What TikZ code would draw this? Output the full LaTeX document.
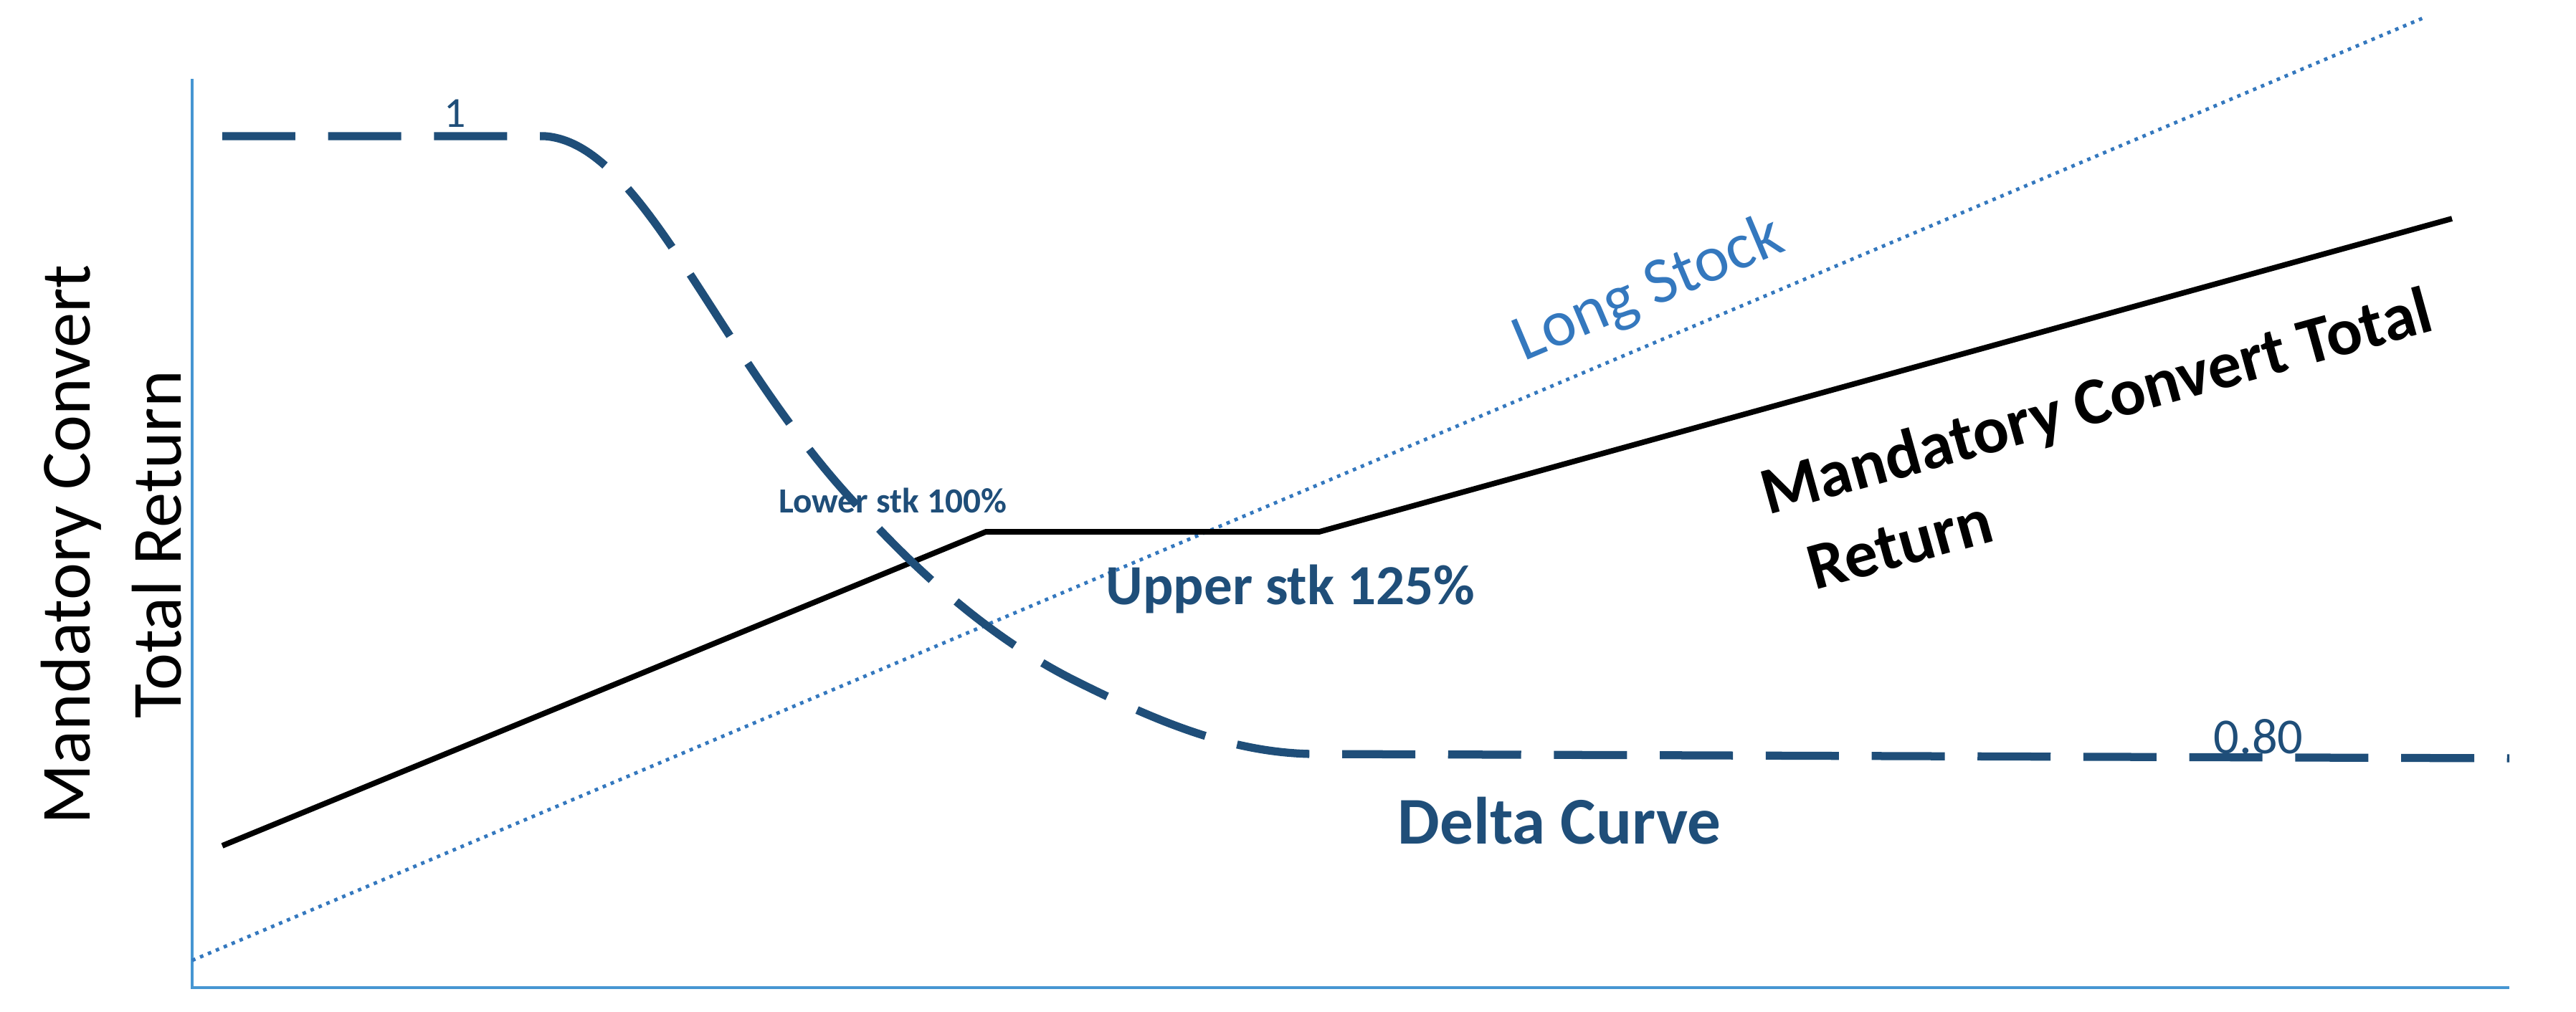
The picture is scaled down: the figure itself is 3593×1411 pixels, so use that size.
\documentclass[tikz,border=0pt]{standalone}
\usepackage{fontspec}
\setmainfont{Carlito}
\begin{document}
\begin{tikzpicture}[x=0.01cm,y=-0.01cm,
  lbl/.style={inner sep=0pt, anchor=center}]
\definecolor{dblue}{RGB}{31,78,121}
\definecolor{lblue}{RGB}{52,120,190}
\definecolor{axc}{RGB}{70,150,210}
\useasboundingbox (0,0) rectangle (3593,1411);
\coordinate (o) at (268,1378);
\coordinate (yt) at (268,110);
\coordinate (xr) at (3500,1378);
\draw[draw=axc, line width=1.4pt] (yt) -- (o) -- (xr);
\coordinate (ls1) at (268,1340);
\coordinate (ls2) at (3380,25);
\draw[draw=lblue, dotted, line width=1.4pt] (ls1) -- (ls2);
\coordinate (m1) at (310,1180);
\coordinate (m2) at (1375,742);
\coordinate (m3) at (1840,742);
\coordinate (m4) at (3420,305);
\draw[line width=2.2pt] (m1) -- (m2) -- (m3) -- (m4);
\coordinate (d1) at (310,190);
\coordinate (d2) at (760,190);
\coordinate (d4) at (1830,1052);
\coordinate (d5) at (3500,1058);
\draw[draw=dblue, line width=3.2pt, dash pattern=on 29pt off 13pt]
  (d1) -- (d2) .. controls (900,200) and (1000,500) .. (1200,710)
  .. controls (1300,820) and (1400,900) .. (1500,950)
  .. controls (1620,1010) and (1720,1050) .. (d4) -- (d5);
\node[lbl, text=dblue, font=\fontsize{17}{20}\selectfont] (one) at (635,158) {1};
\node[lbl, text=dblue, font=\fontsize{20}{24}\selectfont] (p80) at (3150,1028) {0.80};
\node[lbl, text=lblue, rotate=22.9, font=\fontsize{26}{30}\selectfont] (ls) at (2300,405) {Long Stock};
\node[lbl, rotate=15.5, font=\bfseries\fontsize{26.5}{30}\selectfont] (mct1) at (2925,565) {Mandatory Convert Total};
\node[lbl, rotate=15.5, font=\bfseries\fontsize{26.5}{30}\selectfont] (mct2) at (2650,760) {Return};
\node[lbl, text=dblue, font=\bfseries\fontsize{14}{16}\selectfont] (lo) at (1245,698) {Lower stk 100\%};
\node[lbl, text=dblue, font=\bfseries\fontsize{22.5}{26}\selectfont] (up) at (1800,822) {Upper stk 125\%};
\node[lbl, text=dblue, font=\bfseries\fontsize{26.5}{30}\selectfont] (dc) at (2175,1145) {Delta Curve};
\node[lbl, rotate=90, align=center, font=\fontsize{28}{36}\selectfont] (yl) at (155,760) {Mandatory Convert\\Total Return};
\end{tikzpicture}
\end{document}
